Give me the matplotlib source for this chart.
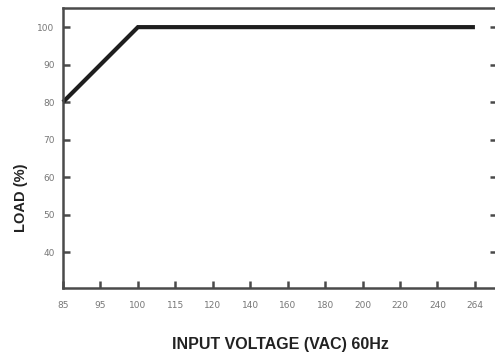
import matplotlib
matplotlib.use("Agg")
import matplotlib.pyplot as plt

# data
voltage_labels = ["85", "95", "100", "115", "120", "140", "160", "180", "200", "220", "240", "264"]
curve_x_idx = [0, 2, 11]
curve_load = [80, 100, 100]
y_ticks = [40, 50, 60, 70, 80, 90, 100]

fig = plt.figure(figsize=(4.95, 3.61), dpi=100)
# right spine sits just past the image edge, as in the reference crop
ax = fig.add_axes([0.1273, 0.2022, 0.8768, 0.7756])

ax.plot(curve_x_idx, curve_load, color="#1e1e1e", lw=3.0, solid_capstyle="butt",
        solid_joinstyle="miter", clip_on=False)

ax.set_xlim(0, 11.59)
ax.set_ylim(30.4, 105.1)

ax.set_xticks(range(len(voltage_labels)))
ax.set_xticklabels(voltage_labels)
ax.set_yticks(y_ticks)

for side in ["left", "bottom", "top", "right"]:
    ax.spines[side].set_color("#4a4a4a")
    ax.spines[side].set_linewidth(1.8)

ax.tick_params(axis="both", direction="in", length=5, width=1.8, color="#4a4a4a",
               labelsize=6.5, labelcolor="#777777")
ax.tick_params(axis="y", right=True, pad=6)
ax.tick_params(axis="x", pad=9)

ax.set_ylabel("LOAD (%)", fontsize=10.5, fontweight="bold", family="Liberation Sans",
              color="#222222")
ax.yaxis.set_label_coords(-0.081, 0.323)
ax.set_xlabel("INPUT VOLTAGE (VAC) 60Hz", fontsize=11.5, fontweight="bold",
              family="Liberation Sans", color="#222222", labelpad=20)

fig.savefig("out.png", dpi=100)
